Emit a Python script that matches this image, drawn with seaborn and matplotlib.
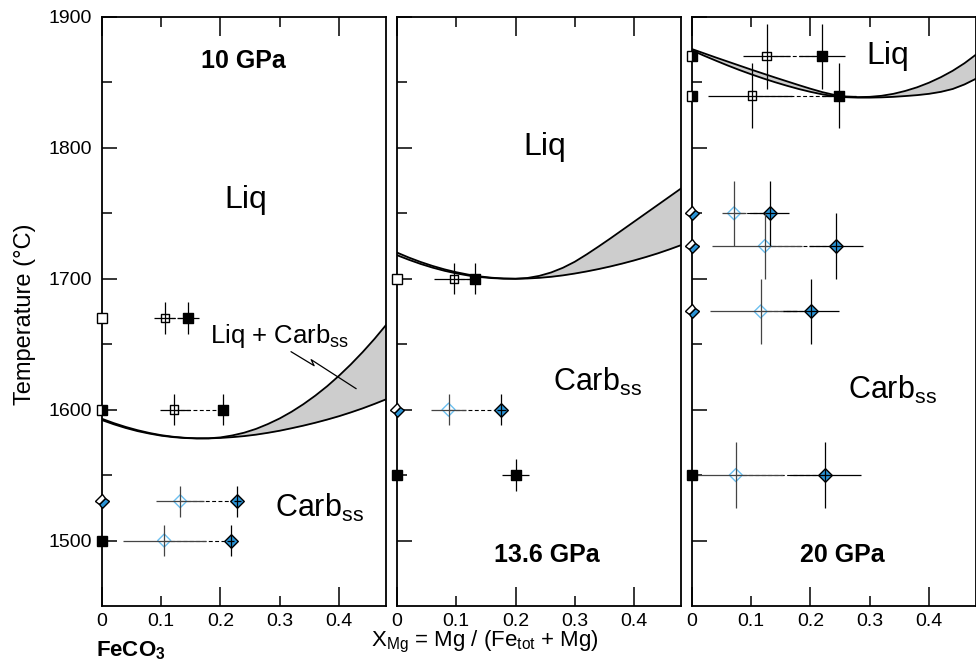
import numpy as np
import pandas as pd
import matplotlib
matplotlib.use("Agg")
import matplotlib.pyplot as plt
from matplotlib.markers import MarkerStyle
from matplotlib.transforms import Affine2D
import seaborn as sns

# ---------------------------------------------------------------- data
pressures = [10, 13.6, 20]
panel_titles = ["10 GPa", "13.6 GPa", "20 GPa"]

# Liquidus / solidus loops (temperature in °C at each X_Mg)
x_boundary = [0.00, 0.02, 0.04, 0.06, 0.08, 0.10, 0.12, 0.14, 0.16, 0.18, 0.20, 0.22,
              0.24, 0.26, 0.28, 0.30, 0.32, 0.34, 0.36, 0.38, 0.40, 0.42, 0.44, 0.46, 0.48]
liquidus_10 = [1593.0, 1589.7, 1586.8, 1584.3, 1582.2, 1580.5, 1579.3, 1578.5, 1578.1,
               1578.1, 1578.8, 1580.3, 1582.4, 1585.3, 1589.0, 1593.3, 1598.4, 1604.2,
               1610.7, 1617.9, 1625.9, 1634.6, 1644.0, 1654.1, 1665.0]
solidus_10 = [1592.0, 1588.8, 1586.0, 1583.6, 1581.7, 1580.1, 1579.0, 1578.3, 1578.0,
              1578.05, 1578.4, 1579.0, 1579.8, 1580.9, 1582.3, 1583.9, 1585.8, 1587.8,
              1590.0, 1592.4, 1595.0, 1597.9, 1601.0, 1604.4, 1608.0]
liquidus_136 = [1720.0, 1716.2, 1712.8, 1709.8, 1707.2, 1705.0, 1703.2, 1701.8, 1700.8,
                1700.2, 1700.0, 1700.6, 1702.2, 1704.8, 1708.4, 1713.0, 1718.6, 1724.6,
                1730.8, 1737.2, 1743.6, 1750.0, 1756.4, 1762.8, 1769.2]
solidus_136 = [1718.0, 1714.5, 1711.3, 1708.5, 1706.1, 1704.1, 1702.5, 1701.3, 1700.5,
               1700.1, 1700.0, 1700.2, 1700.7, 1701.5, 1702.6, 1704.0, 1705.6, 1707.4,
               1709.4, 1711.6, 1714.0, 1716.6, 1719.4, 1722.5, 1725.8]
liquidus_20 = [1875.5, 1872.3, 1869.1, 1866.0, 1862.9, 1859.8, 1856.8, 1853.8, 1850.9,
               1848.0, 1845.2, 1842.6, 1840.5, 1839.2, 1838.8, 1839.0, 1839.8, 1841.3,
               1843.5, 1846.3, 1849.8, 1854.0, 1858.9, 1864.7, 1871.5]
solidus_20 = [1874.5, 1870.5, 1866.7, 1863.0, 1859.5, 1856.2, 1853.1, 1850.2, 1847.5,
              1845.0, 1842.8, 1840.9, 1839.5, 1838.7, 1838.4, 1838.4, 1838.6, 1839.0,
              1839.6, 1840.3, 1841.3, 1842.8, 1845.0, 1848.5, 1853.0]

# Experimental runs
run_pressure = [10, 10, 10, 10, 13.6, 13.6, 13.6, 20, 20, 20, 20, 20, 20]
run_T = [1670, 1600, 1530, 1500, 1700, 1600, 1550, 1870, 1840, 1750, 1725, 1675, 1550]
run_T_err = [12, 12, 12, 12, 12, 12, 12, 25, 25, 25, 25, 25, 25]
run_phase = ["square", "square", "diamond", "diamond", "square", "diamond", "square",
             "square", "square", "diamond", "diamond", "diamond", "diamond"]
start_marker = ["open", "half", "half", "black", "open", "half", "black",
                "half", "half", "half", "half", "half", "black"]
open_x = [0.106, 0.122, 0.132, 0.105, 0.096, 0.087, np.nan, 0.126, 0.101, 0.071, 0.123, 0.116, 0.074]
open_xlo = [0.018, 0.024, 0.041, 0.069, 0.033, 0.029, np.nan, 0.040, 0.074, 0.020, 0.090, 0.086, 0.074]
open_xhi = [0.018, 0.026, 0.041, 0.070, 0.033, 0.029, np.nan, 0.040, 0.068, 0.020, 0.062, 0.062, 0.080]
final_x = [0.145, 0.204, 0.228, 0.217, 0.132, 0.176, 0.200, 0.220, 0.248, 0.131, 0.243, 0.201, 0.225]
final_xerr = [0.018, 0.006, 0.006, 0.006, 0.008, 0.008, 0.023, 0.039, 0.028, 0.033, 0.046, 0.047, 0.060]

x_ticks_major = [0, 0.2, 0.4]
x_ticks_minor = [0.1, 0.3]
y_ticks_major = [1500, 1600, 1700, 1800, 1900]
y_ticks_minor = [1550, 1650, 1750, 1850]

# ---------------------------------------------------------------- style
sns.set_theme(style="ticks")
plt.rcParams["font.family"] = ["Liberation Sans", "DejaVu Sans"]
plt.rcParams["mathtext.fontset"] = "custom"
plt.rcParams["mathtext.rm"] = "Liberation Sans"
plt.rcParams["mathtext.it"] = "Liberation Sans:italic"
plt.rcParams["mathtext.bf"] = "Liberation Sans:bold"
plt.rcParams["axes.linewidth"] = 1.3
plt.rcParams["axes.edgecolor"] = "black"
plt.rcParams["text.color"] = "black"
plt.rcParams["axes.labelcolor"] = "black"
plt.rcParams["xtick.color"] = "black"
plt.rcParams["ytick.color"] = "black"
plt.rcParams["xtick.labelcolor"] = "black"
plt.rcParams["ytick.labelcolor"] = "black"

BLUE = "#2a93d5"
LIGHT_BLUE = "#6cc0f0"
GRAY_FILL = "#cdcdcd"

runs = pd.DataFrame({
    "P": run_pressure, "T": run_T, "T_err": run_T_err, "phase": run_phase,
    "start": start_marker, "open_x": open_x, "open_xlo": open_xlo,
    "open_xhi": open_xhi, "final_x": final_x, "final_xerr": final_xerr,
})
boundaries = {
    10: (liquidus_10, solidus_10),
    13.6: (liquidus_136, solidus_136),
    20: (liquidus_20, solidus_20),
}

fig = plt.figure(figsize=(9.76, 6.69), dpi=100)
lefts = [0.1045, 0.4068, 0.7090]
axes = [fig.add_axes([l, 0.0942, 0.2914, 0.8804]) for l in lefts]

half_square = MarkerStyle("s", fillstyle="right")
half_diamond = MarkerStyle("s", fillstyle="bottom", transform=Affine2D().rotate_deg(45))

for ax, p, title in zip(axes, pressures, panel_titles):
    liq, sol = boundaries[p]
    ax.fill_between(x_boundary, sol, liq, color=GRAY_FILL, lw=0, zorder=1)
    for curve in (liq, sol):
        sns.lineplot(x=x_boundary, y=curve, sort=False, estimator=None,
                     color="black", lw=1.3, ax=ax, zorder=2)

    sub = runs[runs["P"] == p]
    for _, r in sub.iterrows():
        sq = r["phase"] == "square"
        # tie line between starting and final compositions
        if not np.isnan(r["open_x"]):
            ax.plot([r["open_x"], r["final_x"]], [r["T"], r["T"]], ls=(0, (3.5, 2.2)),
                    color="black", lw=0.8, zorder=2)
            ax.errorbar(r["open_x"], r["T"], xerr=[[r["open_xlo"]], [r["open_xhi"]]],
                        yerr=r["T_err"], fmt="none", ecolor="black" if sq else "#444444",
                        elinewidth=0.9, capsize=0, zorder=4)
        ax.errorbar(r["final_x"], r["T"], xerr=r["final_xerr"], yerr=r["T_err"],
                    fmt="none", ecolor="black", elinewidth=0.9, capsize=0, zorder=4)

        # marker at the FeCO3 end-member
        if r["start"] == "open":
            ax.plot(0, r["T"], marker="s", ms=6.5, mfc="white", mec="black", mew=1.0,
                    clip_on=False, zorder=5)
        elif r["start"] == "black":
            ax.plot(0, r["T"], marker="s", ms=7, mfc="black", mec="black", mew=1.0,
                    clip_on=False, zorder=5)
        elif sq:
            ax.plot(0, r["T"], marker=half_square, ms=6.5, mfc="black", mfcalt="white",
                    mec="black", mew=1.0, clip_on=False, zorder=5)
        else:
            ax.plot(0, r["T"], marker=half_diamond, ms=7, mfc=BLUE, mfcalt="white",
                    mec="black", mew=1.0, clip_on=False, zorder=5)

    sq_sub = sub[sub["phase"] == "square"]
    dm_sub = sub[sub["phase"] == "diamond"]
    if len(sq_sub):
        sns.scatterplot(x=sq_sub["open_x"], y=sq_sub["T"], marker="s", s=36, color="black",
                        facecolor="none", edgecolor="black", linewidth=1.0, ax=ax, zorder=3)
        sns.scatterplot(x=sq_sub["final_x"], y=sq_sub["T"], marker="s", s=55, color="black",
                        edgecolor="black", linewidth=1.0, ax=ax, zorder=3)
    if len(dm_sub):
        sns.scatterplot(x=dm_sub["open_x"], y=dm_sub["T"], marker="D", s=44, color=LIGHT_BLUE,
                        facecolor="none", edgecolor=LIGHT_BLUE, linewidth=1.0, ax=ax, zorder=3)
        sns.scatterplot(x=dm_sub["final_x"], y=dm_sub["T"], marker="D", s=48, color=BLUE,
                        edgecolor="black", linewidth=1.0, ax=ax, zorder=3)

    ax.set_xlim(0, 0.48)
    ax.set_ylim(1450, 1900)
    ax.set_xlabel("")
    ax.set_ylabel("")
    ax.set_xticks(x_ticks_major)
    ax.set_xticklabels(["0", "0.2", "0.4"])
    ax.set_xticks(x_ticks_minor, minor=True)
    ax.set_xticklabels(["0.1", "0.3"], minor=True)
    ax.set_yticks(y_ticks_major)
    ax.set_yticks(y_ticks_minor, minor=True)
    ax.tick_params(axis="x", which="major", direction="in", length=14, width=1.1,
                   top=True, bottom=True, labelsize=14, pad=5, color="black")
    ax.tick_params(axis="x", which="minor", direction="in", length=7.5, width=1.1,
                   top=True, bottom=True, labelsize=14, pad=5, color="black")
    ax.tick_params(axis="y", which="major", direction="in", length=11, width=1.1,
                   left=True, right=False, labelsize=14, pad=7, color="black")
    ax.tick_params(axis="y", which="minor", direction="in", length=7.5, width=1.1,
                   left=True, right=False, color="black")
    if ax is not axes[0]:
        ax.tick_params(axis="y", labelleft=False)
    for s in ax.spines.values():
        s.set_visible(True)
        s.set_linewidth(1.3)
        s.set_color("black")
    ax.set_facecolor("white")

# ---------------------------------------------------------------- labels
a1, a2, a3 = axes
a1.text(0.239, 1866, "10 GPa", fontsize=18, fontweight="bold", ha="center", va="center")
a1.text(0.243, 1760, "Liq", fontsize=23, ha="center", va="center")
a1.text(0.292, 1518, r"Carb$_{\mathrm{ss}}$", fontsize=22, ha="left", va="baseline")
a1.text(0.182, 1651, r"Liq + Carb$_{\mathrm{ss}}$", fontsize=18.5, ha="left", va="baseline")
a1.plot([0.319, 0.358, 0.353, 0.429], [1644.3, 1633.6, 1638.2, 1616], color="black",
        lw=0.9, zorder=6)

a2.text(0.252, 1489, "13.6 GPa", fontsize=18, fontweight="bold", ha="center", va="center")
a2.text(0.25, 1801, "Liq", fontsize=23, ha="center", va="center")
a2.text(0.263, 1614, r"Carb$_{\mathrm{ss}}$", fontsize=22, ha="left", va="baseline")

a3.text(0.254, 1489, "20 GPa", fontsize=18, fontweight="bold", ha="center", va="center")
a3.text(0.331, 1870, "Liq", fontsize=23, ha="center", va="center")
a3.text(0.264, 1608, r"Carb$_{\mathrm{ss}}$", fontsize=22, ha="left", va="baseline")

fig.text(0.026, 0.53, "Temperature (°C)", rotation=90, fontsize=17, ha="center", va="center")
fig.text(0.497, 0.040, r"X$_{\mathrm{Mg}}$ = Mg / (Fe$_{\mathrm{tot}}$ + Mg)", fontsize=16,
         ha="center", va="center")
fig.text(0.134, 0.028, r"FeCO$_{\mathbf{3}}$", fontsize=16, fontweight="bold",
         ha="center", va="center")

fig.savefig("out.png", dpi=100, facecolor="white")
